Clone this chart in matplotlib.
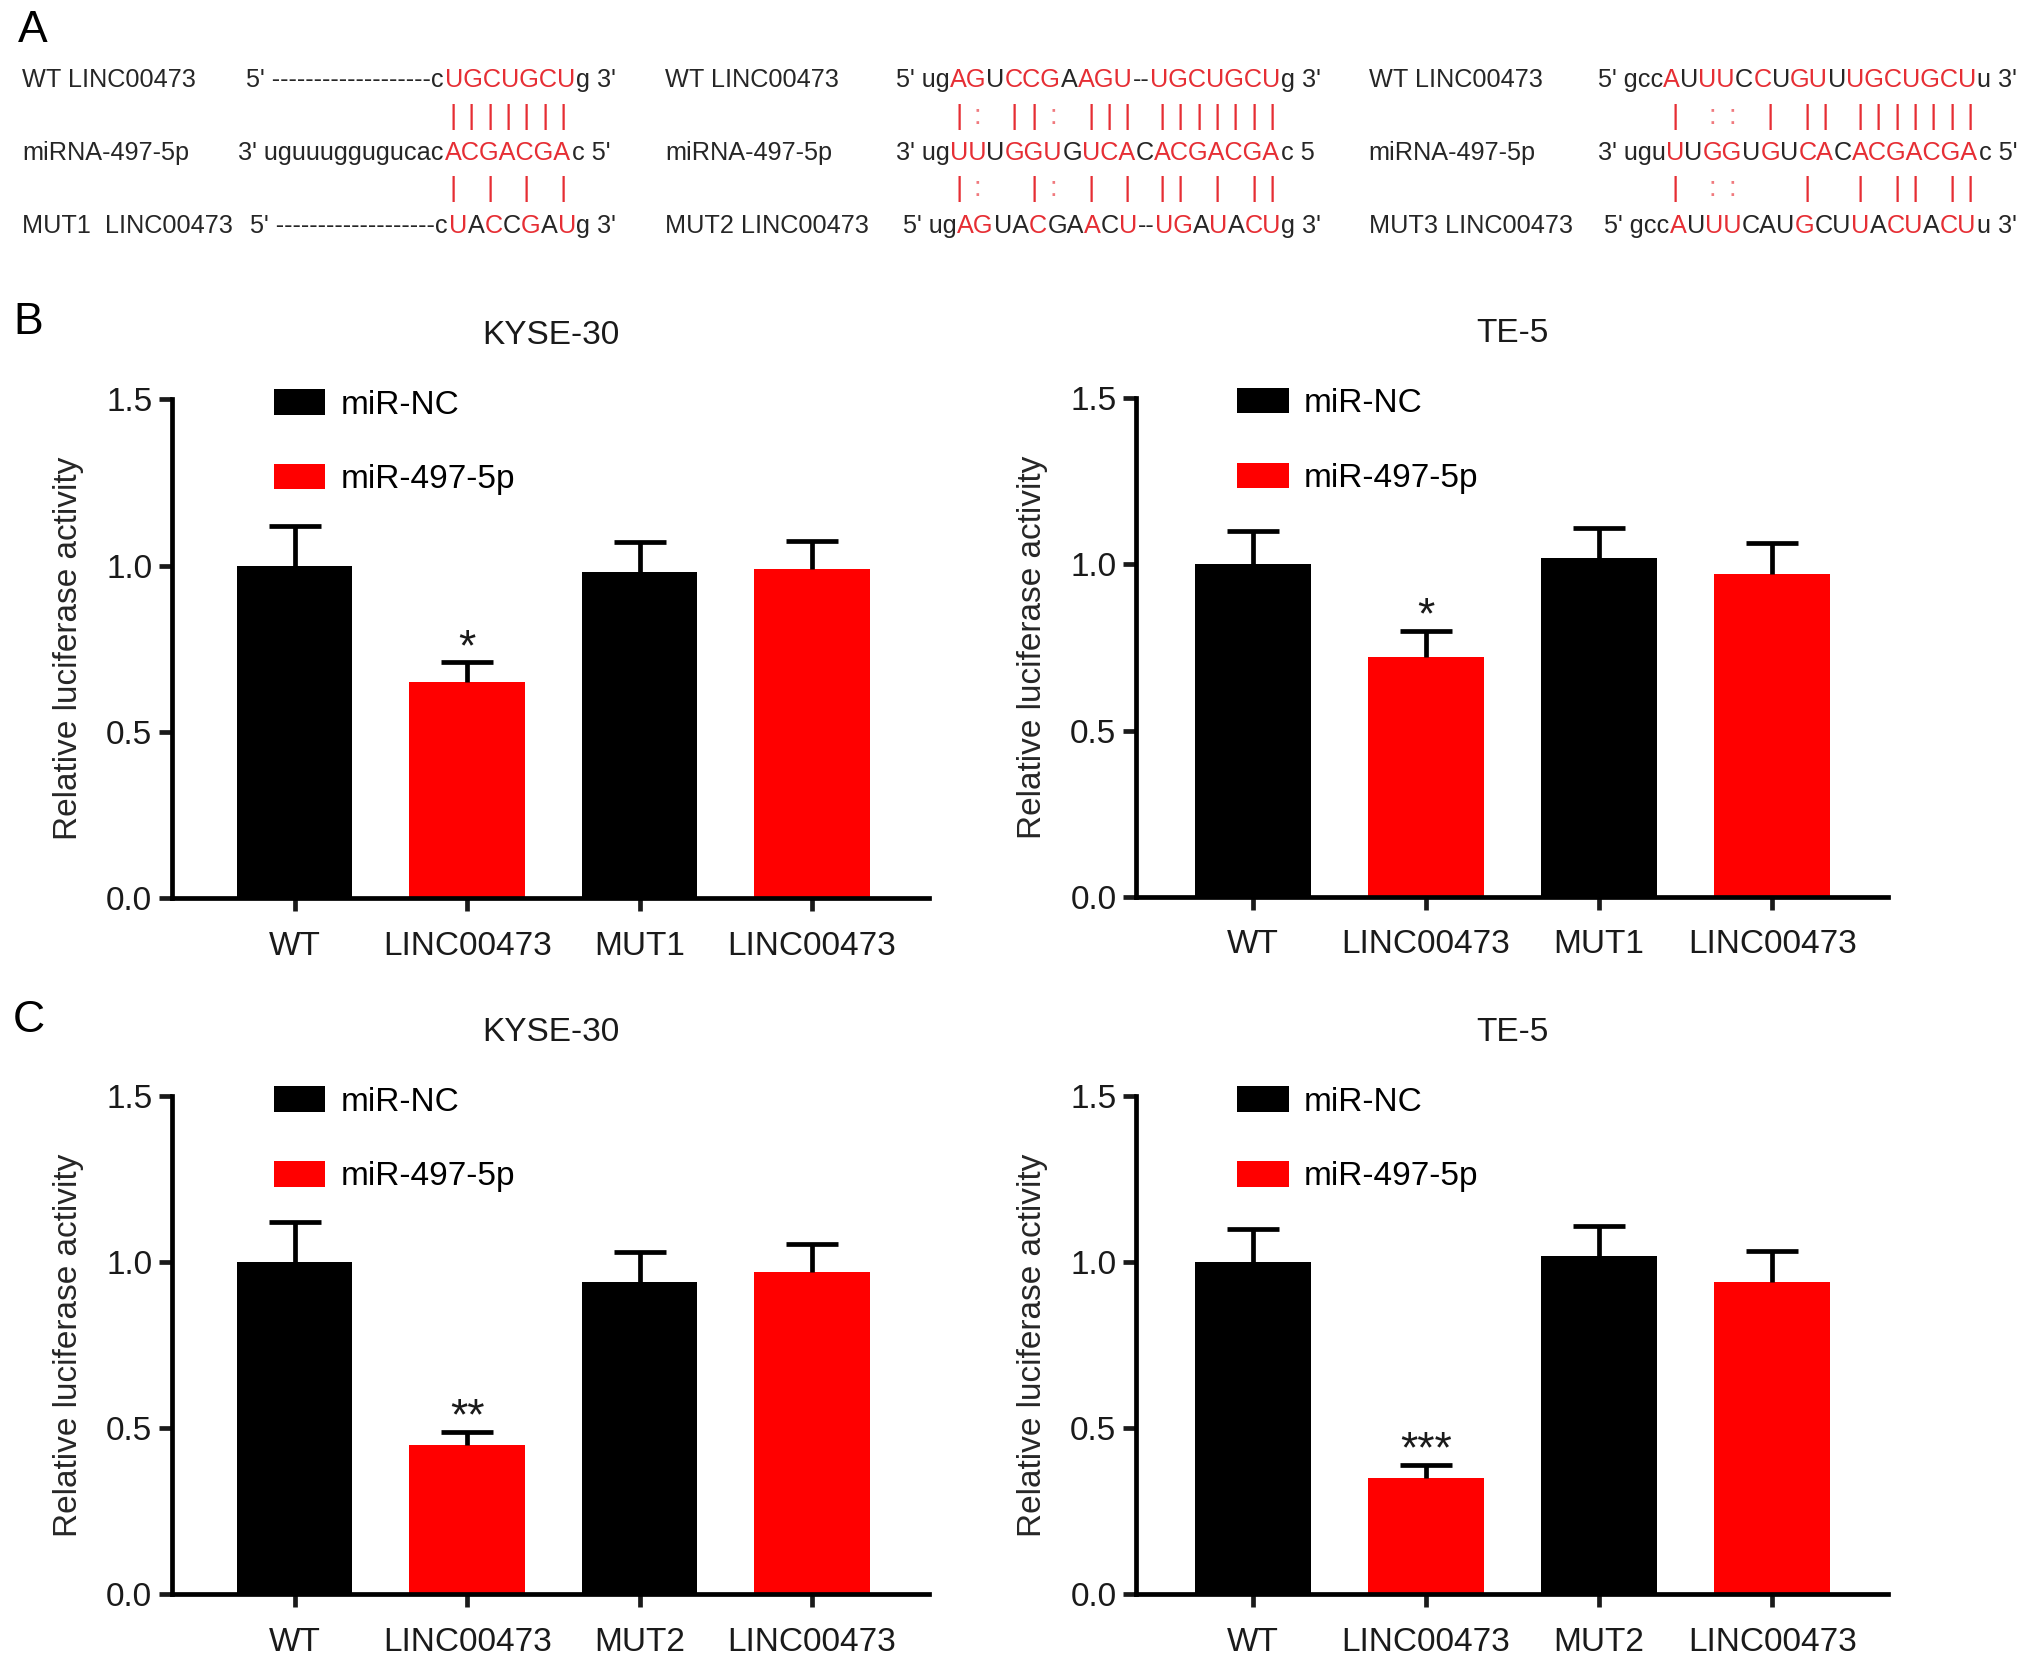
import numpy as np
import matplotlib
matplotlib.use('Agg')
import matplotlib.pyplot as plt
from matplotlib import font_manager, ft2font
from matplotlib.ticker import FormatStrFormatter

plt.rcParams['font.family'] = ['Liberation Sans', 'DejaVu Sans']

# ---- panel B / C data ----
labels_b = ['WT', 'LINC00473', 'MUT1', 'LINC00473']
labels_c = ['WT', 'LINC00473', 'MUT2', 'LINC00473']

b_kyse_mean = [1.00, 0.65, 0.98, 0.99]
b_kyse_err = [0.12, 0.06, 0.09, 0.085]
b_kyse_sig = ['', '*', '', '']

b_te_mean = [1.00, 0.72, 1.02, 0.97]
b_te_err = [0.10, 0.08, 0.09, 0.095]
b_te_sig = ['', '*', '', '']

c_kyse_mean = [1.00, 0.45, 0.94, 0.97]
c_kyse_err = [0.12, 0.04, 0.09, 0.085]
c_kyse_sig = ['', '**', '', '']

c_te_mean = [1.00, 0.35, 1.02, 0.94]
c_te_err = [0.10, 0.04, 0.09, 0.095]
c_te_sig = ['', '***', '', '']

# ---- panel A sequences: (text, is_red) segments ----
K, R = False, True
wt1 = [("5' " + "-" * 19 + "c", K), ("UGCUGCU", R), ("g 3'", K)]
mir1 = [("3' uguuuggugucac", K), ("ACGACGA", R), ("c 5'", K)]
mut1 = [("5' " + "-" * 19 + "c", K), ("U", R), ("A", K), ("C", R), ("C", K),
        ("G", R), ("A", K), ("U", R), ("g 3'", K)]
marks1_top = " " * 16 + "|||||||"
marks1_bot = " " * 16 + "| | | |"

wt2 = [("5' ug", K), ("AG", R), ("U", K), ("CCG", R), ("A", K), ("AGU", R),
       ("--", K), ("UGCUGCU", R), ("g 3'", K)]
mir2 = [("3' ug", K), ("UU", R), ("U", K), ("GGU", R), ("G", K), ("UCA", R),
        ("C", K), ("ACGACGA", R), ("c 5", K)]
mut2 = [("5' ug", K), ("AG", R), ("UA", K), ("C", R), ("GA", K), ("A", R),
        ("C", K), ("U", R), ("--", K), ("UG", R), ("A", K), ("U", R), ("A", K),
        ("CU", R), ("g 3'", K)]
marks2_top = " " * 5 + "|: ||: ||| |||||||"
marks2_bot = " " * 5 + "|:  |: | | || | ||"

wt3 = [("5' gcc", K), ("A", R), ("U", K), ("UU", R), ("C", K), ("C", R),
       ("U", K), ("GU", R), ("U", K), ("UGCUGCU", R), ("u 3'", K)]
mir3 = [("3' ugu", K), ("U", R), ("U", K), ("GG", R), ("U", K), ("G", R),
        ("U", K), ("CA", R), ("C", K), ("ACGACGA", R), ("c 5'", K)]
mut3 = [("5' gcc", K), ("A", R), ("U", K), ("UU", R), ("CAU", K), ("G", R),
        ("CU", K), ("U", R), ("A", K), ("CU", R), ("A", K), ("CU", R), ("u 3'", K)]
marks3_top = " " * 6 + "| :: | || |||||||"
marks3_bot = " " * 6 + "| ::   |  | || ||"

RED_TXT = '#e62e34'
DARK_TXT = '#262626'
SEQ_SIZE = 9.1
FIG_W, FIG_H = 10.16, 8.34

fig = plt.figure(figsize=(FIG_W, FIG_H), dpi=200)

# glyph advances, so pairing marks can sit under single letters
ft = ft2font.FT2Font(font_manager.findfont('Liberation Sans'))
try:
    NO_HINT = ft2font.LoadFlags.NO_HINTING
except AttributeError:
    NO_HINT = ft2font.LOAD_NO_HINTING


def advances(s):
    ft.set_size(SEQ_SIZE, 72)
    return np.array([ft.load_char(ord(c), flags=NO_HINT).linearHoriAdvance / 65536
                     for c in s])


def draw_seq(x0, y, segs):
    x = x0
    for txt, red in segs:
        fig.text(x, y, txt, color=RED_TXT if red else DARK_TXT,
                 fontsize=SEQ_SIZE, ha='left', va='center')
        x += advances(txt).sum() / (FIG_W * 72)


def draw_marks(x0, y, segs, marks):
    s = ''.join(t for t, _ in segs)
    adv = advances(s)
    centres = x0 + (np.cumsum(adv) - adv / 2) / (FIG_W * 72)
    for xc, m in zip(centres, marks):
        if m == '|':
            fig.text(xc, y, '|', color=RED_TXT, fontsize=10, ha='center', va='center')
        elif m == ':':
            fig.text(xc, y, ':', color='#f07a7e', fontsize=10, ha='center', va='center')


rows_y = [0.9518, 0.9301, 0.9083, 0.8866, 0.8648]
columns = [
    (0.0108, ['WT LINC00473', 'miRNA-497-5p', 'MUT1  LINC00473'],
     (0.1212, 0.1173, 0.1231), wt1, mir1, mut1, marks1_top, marks1_bot),
    (0.3272, ['WT LINC00473', 'miRNA-497-5p', 'MUT2 LINC00473'],
     (0.4407, 0.4407, 0.4445), wt2, mir2, mut2, marks2_top, marks2_bot),
    (0.6735, ['WT LINC00473', 'miRNA-497-5p', 'MUT3 LINC00473'],
     (0.7863, 0.7863, 0.7895), wt3, mir3, mut3, marks3_top, marks3_bot),
]
for lx, names, starts, top, mid, bot, mt, mb in columns:
    for name, yy in zip(names, rows_y[0::2]):
        fig.text(lx, yy, name, color=DARK_TXT, fontsize=SEQ_SIZE, ha='left', va='center')
    draw_seq(starts[0], rows_y[0], top)
    draw_seq(starts[1], rows_y[2], mid)
    draw_seq(starts[2], rows_y[4], bot)
    draw_marks(starts[1], rows_y[1], mid, mt)
    draw_marks(starts[1], rows_y[3], mid, mb)


def bar_panel(rect, xlim, title, labels, means, errs, sig):
    ax = fig.add_axes(rect)
    x = np.arange(len(means))
    means = np.array(means)
    errs = np.array(errs)
    nc = ax.bar(x[0::2], means[0::2], width=0.67, color='black', label='miR-NC')
    mi = ax.bar(x[1::2], means[1::2], width=0.67, color='#ff0000', label='miR-497-5p')
    _, caps, _ = ax.errorbar(x, means, yerr=[np.zeros_like(errs), errs], fmt='none',
                             ecolor='black', elinewidth=1.7, capsize=9.5, capthick=1.7)
    caps[0].set_visible(False)
    for xi, m, e, s in zip(x, means, errs, sig):
        if s:
            ax.annotate(s, (xi, m + e), xytext=(0, -2.5), textcoords='offset points',
                        ha='center', va='bottom', fontsize=16, color='#1a1a1a')
    ax.set_xlim(*xlim)
    ax.set_ylim(0, 1.5)
    ax.set_yticks([0, 0.5, 1.0, 1.5])
    ax.yaxis.set_major_formatter(FormatStrFormatter('%.1f'))
    ax.set_xticks(x, labels)
    for side in ('top', 'right'):
        ax.spines[side].set_visible(False)
    for side in ('left', 'bottom'):
        ax.spines[side].set_linewidth(1.7)
    ax.tick_params(axis='both', direction='out', length=4.7, width=1.7,
                   labelsize=12, colors='#1a1a1a')
    ax.tick_params(axis='x', pad=7)
    ax.tick_params(axis='y', pad=2.5)
    ax.set_ylabel('Relative luciferase activity', fontsize=12, labelpad=8, color='#262626')
    ax.text(0.5, 1.128, title, transform=ax.transAxes, ha='center', va='center',
            fontsize=12, color='#1a1a1a')
    ax.legend(handles=[nc, mi], loc='upper left', bbox_to_anchor=(0.134, 1.02),
              frameon=False, borderpad=0, borderaxespad=0, fontsize=12,
              handlelength=1.55, handleheight=0.8, handletextpad=0.45,
              labelspacing=1.3)
    return ax


bar_panel([0.0848, 0.4615, 0.3725, 0.2992], (-0.71, 3.68), 'KYSE-30',
          labels_b, b_kyse_mean, b_kyse_err, b_kyse_sig)
bar_panel([0.5593, 0.4623, 0.3700, 0.2992], (-0.67, 3.67), 'TE-5',
          labels_b, b_te_mean, b_te_err, b_te_sig)
bar_panel([0.0848, 0.0443, 0.3725, 0.2984], (-0.71, 3.68), 'KYSE-30',
          labels_c, c_kyse_mean, c_kyse_err, c_kyse_sig)
bar_panel([0.5593, 0.0443, 0.3700, 0.2984], (-0.67, 3.67), 'TE-5',
          labels_c, c_te_mean, c_te_err, c_te_sig)

fig.text(0.0089, 0.9751, 'A', fontsize=16, va='baseline', ha='left')
fig.text(0.0064, 0.7995, 'B', fontsize=16, va='baseline', ha='left')
fig.text(0.0064, 0.3815, 'C', fontsize=16, va='baseline', ha='left')

fig.savefig('out.png', dpi=200)
